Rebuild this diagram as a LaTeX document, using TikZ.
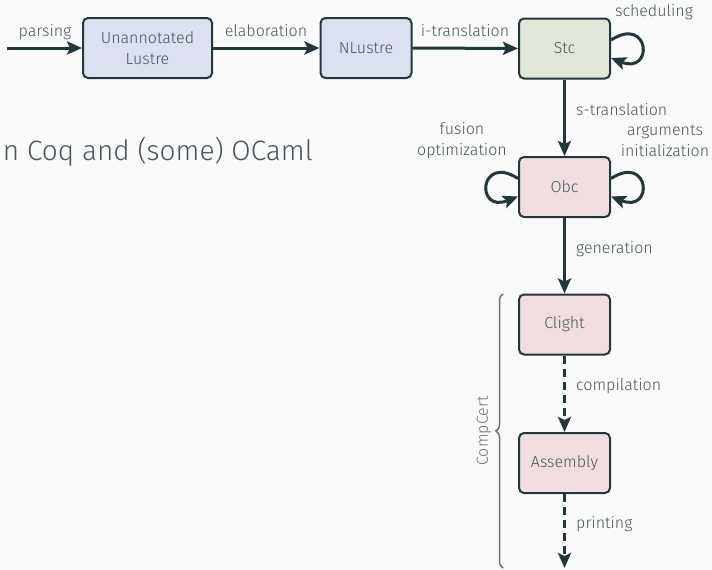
\documentclass[tikz,border=0pt]{standalone}
\usepackage{fontspec}
\setmainfont{Fira Sans Light}
\usetikzlibrary{arrows.meta,decorations.pathreplacing}
\definecolor{bgc}{HTML}{FAFAFA}
\definecolor{ink}{HTML}{23373B}
\definecolor{txt}{HTML}{46565A}
\definecolor{lustrefill}{HTML}{DCE0EF}
\definecolor{stcfill}{HTML}{E1E6DA}
\definecolor{obcfill}{HTML}{F0DDE0}
\definecolor{bracec}{HTML}{707070}
\tikzset{
  stage/.style={draw=ink, line width=2pt, rounded corners=5pt, minimum width=91pt,
    minimum height=60pt, inner sep=0pt, align=center, text=txt,
    font=\fontsize{16}{21}\selectfont},
  lbl/.style={text=txt, font=\fontsize{16}{21}\selectfont, inner sep=0pt, align=center},
  flow/.style={draw=ink, line width=3pt, -{Stealth[length=15pt,width=13pt,inset=3pt]}},
  dflow/.style={flow, dash pattern=on 8pt off 5pt}
}
\begin{document}
\begin{tikzpicture}[x=1pt,y=-1pt]
\fill[bgc] (0,0) rectangle (712,570);
\useasboundingbox (0,0) rectangle (712,570);

% pipeline stages
\node[stage, fill=lustrefill, minimum width=129pt] (ul) at (147.5,48) {Unannotated\\Lustre};
\node[stage, fill=lustrefill] (nl) at (366,48) {NLustre};
\node[stage, fill=stcfill] (stc) at (564.5,48.5) {Stc};
\node[stage, fill=obcfill] (obc) at (564.5,187) {Obc};
\node[stage, fill=obcfill] (cl) at (564.5,324.5) {Clight};
\node[stage, fill=obcfill] (asm) at (564.5,463) {Assembly};

\coordinate (src) at (7,48);
\coordinate (out) at (564.5,568);

% translations
\draw[flow] (src) -- (ul);
\draw[flow] (ul) -- (nl);
\draw[flow] (nl) -- (stc);
\draw[flow] (stc) -- (obc);
\draw[flow] (obc) -- (cl);
\draw[dflow] (cl) -- (asm);
\draw[dflow] (asm) -- (out);

% passes within a language
\draw[flow] ([yshift=8.5pt]stc.east) .. controls +(39,-25) and +(43,17) .. ([yshift=-9.5pt]stc.east);
\draw[flow] ([yshift=8.5pt]obc.east) .. controls +(39,-25) and +(43,17) .. ([yshift=-9.5pt]obc.east);
\draw[flow] ([yshift=8.5pt]obc.west) .. controls +(-39,-25) and +(-43,17) .. ([yshift=-9.5pt]obc.west);

% labels
\node[lbl] (lp) at (45,32) {parsing};
\node[lbl] (le) at (266,31) {elaboration};
\node[lbl] (li) at (465,31) {i-translation};
\node[lbl] (lsch) at (654,12) {scheduling};
\node[lbl, anchor=west] (ls) at (576,110) {s-translation};
\node[lbl] (lf) at (462,141) {fusion\\optimization};
\node[lbl] (la) at (665,141) {arguments\\initialization};
\node[lbl, anchor=west] (lg) at (576,249) {generation};
\node[lbl, anchor=west] (lc) at (576,386) {compilation};
\node[lbl, anchor=west] (lpr) at (576,524) {printing};

\node[text=txt, font=\fontsize{28}{32}\selectfont, anchor=east, inner sep=0pt] (impl) at (313,152) {n Coq and (some) OCaml};

% CompCert part of the chain
\draw[bracec, line width=1.5pt, decorate, decoration={brace, amplitude=7pt}]
  (503,568) -- (503,294);
\node[text=bracec, font=\fontsize{16}{18}\selectfont, rotate=90, inner sep=0pt] (cc) at (484,431) {CompCert};
\end{tikzpicture}
\end{document}
